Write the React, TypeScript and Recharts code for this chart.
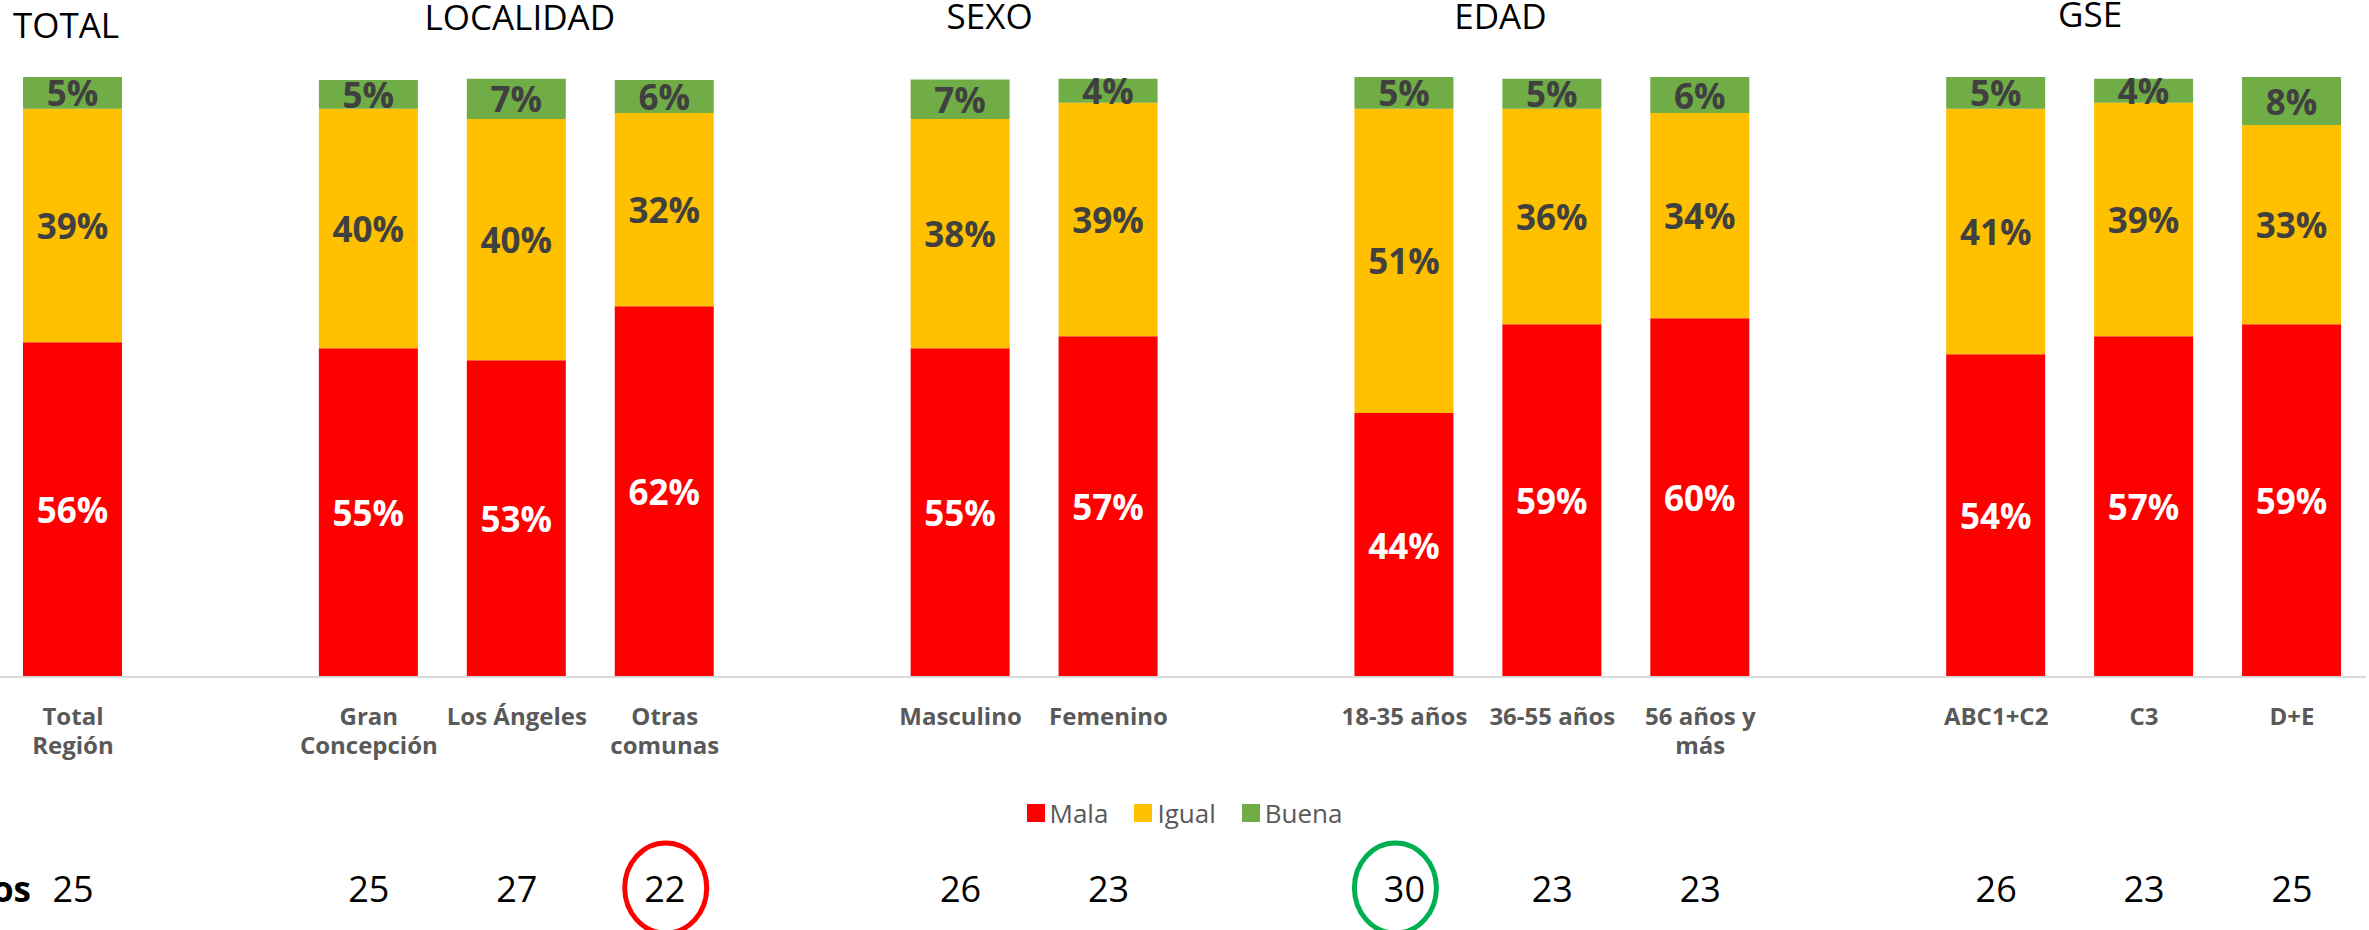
import { BarChart, Bar, XAxis, YAxis, LabelList, Legend } from "recharts";

// Stacked 100% bars by segment; empty slots separate the groups
const categories = [
  "Total\nRegión", "", "Gran\nConcepción", "Los Ángeles", "Otras\ncomunas", "",
  "Masculino", "Femenino", "", "18-35 años", "36-55 años", "56 años y\nmás", "",
  "ABC1+C2", "C3", "D+E",
];
const groupHeaders = [
  "TOTAL", null, null, "LOCALIDAD", null, null, "SEXO", null, null, "EDAD", null, null, null, "GSE", null, null,
];
const seriesNames = ["Mala", "Igual", "Buena"];
const mala = [55.8, null, 54.8, 52.8, 61.8, null, 54.8, 56.8, null, 44.0, 58.8, 59.8, null, 53.8, 56.8, 58.8];
const igual = [38.9, null, 39.9, 40.2, 32.2, null, 38.2, 38.9, null, 50.7, 35.9, 34.2, null, 40.9, 38.9, 33.2];
const buena = [5.3, null, 4.8, 6.7, 5.5, null, 6.6, 4.0, null, 5.3, 5.0, 6.0, null, 5.3, 4.0, 8.0];
const casos = [25, null, 25, 27, 22, null, 26, 23, null, 30, 23, 23, null, 26, 23, 25];
// lowest / highest base marked with a circle
const casosMark = [null, null, null, null, "low", null, null, null, null, "high", null, null, null, null, null, null];

const FONT = "'Open Sans', 'Noto Sans', sans-serif";
const COLORS = { mala: "#ff0000", igual: "#ffc000", buena: "#70ad47" };

// header placement (nudges from the anchor bar, baseline from top)
const HEADER_POS: Record<number, { dx: number; y: number }> = {
  0: { dx: -7, y: 38 },
  3: { dx: 3, y: 30 },
  6: { dx: 29, y: 29 },
  9: { dx: 96, y: 29 },
  13: { dx: 94, y: 27 },
};

const data = categories.map((name, i) => ({
  id: i,
  name,
  Mala: mala[i],
  Igual: igual[i],
  Buena: buena[i],
}));

function HeaderTick(props: { x?: number; index?: number }) {
  const { x = 0, index = 0 } = props;
  const label = groupHeaders[index];
  if (!label) return null;
  const pos = HEADER_POS[index] ?? { dx: 0, y: 30 };
  return (
    <text x={x + pos.dx} y={pos.y} textAnchor="middle" fontFamily={FONT} fontSize={35} fill="#000">
      {label}
    </text>
  );
}

function CategoryTick(props: { x?: number; index?: number }) {
  const { x = 0, index = 0 } = props;
  const lines = categories[index] ? categories[index].split("\n") : [];
  const n = casos[index];
  const mark = casosMark[index];
  return (
    <g>
      {lines.map((line, k) => (
        <text
          key={k}
          x={x}
          y={725 + k * 29}
          textAnchor="middle"
          fontFamily={FONT}
          fontWeight={700}
          fontSize={24}
          fill="#595959"
        >
          {line}
        </text>
      ))}
      {index === 0 && (
        <text x={x - 42} y={902} textAnchor="end" fontFamily={FONT} fontWeight={700} fontSize={35} fill="#000">
          Casos
        </text>
      )}
      {n != null && (
        <text x={x} y={902} textAnchor="middle" fontFamily={FONT} fontSize={36} fill="#000">
          {n}
        </text>
      )}
      {mark && (
        <ellipse
          cx={x + (mark === "high" ? -9 : 1)}
          cy={888}
          rx={41}
          ry={45}
          fill="none"
          stroke={mark === "high" ? "#00b050" : "#ff0000"}
          strokeWidth={5}
        />
      )}
    </g>
  );
}

function segmentLabel(color: string) {
  return (props: { x?: number; y?: number; width?: number; height?: number; value?: number | null }) => {
    const { x = 0, y = 0, width = 0, height = 0, value } = props;
    if (value == null) return null;
    return (
      <text
        x={Number(x) + Number(width) / 2}
        y={Number(y) + Number(height) / 2}
        textAnchor="middle"
        dominantBaseline="central"
        fontFamily={FONT}
        fontWeight={700}
        fontSize={35}
        fill={color}
      >
        {`${Math.round(value)}%`}
      </text>
    );
  };
}

function LegendContent(props: { payload?: { value?: string; color?: string }[] }) {
  // keep series order (Mala, Igual, Buena) instead of the default sort
  const items = [...(props.payload ?? [])].sort(
    (a, b) => seriesNames.indexOf(String(a.value)) - seriesNames.indexOf(String(b.value))
  );
  return (
    <div style={{ display: "flex", justifyContent: "center", gap: 26, fontFamily: FONT, fontSize: 26, color: "#595959" }}>
      {items.map((p) => (
        <span key={p.value} style={{ display: "flex", alignItems: "center", gap: 5 }}>
          <span style={{ width: 18, height: 18, background: p.color, display: "inline-block" }} />
          {p.value}
        </span>
      ))}
    </div>
  );
}

export default function App() {
  return (
    <div style={{ position: "absolute", left: 0, top: 0, width: 2369, height: 930, background: "#fff" }}>
      <BarChart
        width={2369}
        height={930}
        data={data}
        margin={{ top: 0, right: 3, bottom: 0, left: -1 }}
        barSize={99}
      >
        <XAxis
          xAxisId="groups"
          dataKey="id"
          orientation="top"
          height={77}
          axisLine={false}
          tickLine={false}
          tick={<HeaderTick />}
          interval={0}
        />
        <XAxis
          dataKey="id"
          height={253}
          axisLine={{ stroke: "#d9d9d9", strokeWidth: 2 }}
          tickLine={false}
          tick={<CategoryTick />}
          interval={0}
        />
        <YAxis hide domain={[0, 100]} />
        <Legend
          verticalAlign="middle"
          wrapperStyle={{ top: 795, left: 0, width: 2369 }}
          content={<LegendContent />}
        />
        <Bar dataKey="Mala" stackId="a" fill={COLORS.mala} isAnimationActive={false}>
          <LabelList dataKey="Mala" content={segmentLabel("#ffffff")} />
        </Bar>
        <Bar dataKey="Igual" stackId="a" fill={COLORS.igual} isAnimationActive={false}>
          <LabelList dataKey="Igual" content={segmentLabel("#404040")} />
        </Bar>
        <Bar dataKey="Buena" stackId="a" fill={COLORS.buena} isAnimationActive={false}>
          <LabelList dataKey="Buena" content={segmentLabel("#404040")} />
        </Bar>
      </BarChart>
    </div>
  );
}
